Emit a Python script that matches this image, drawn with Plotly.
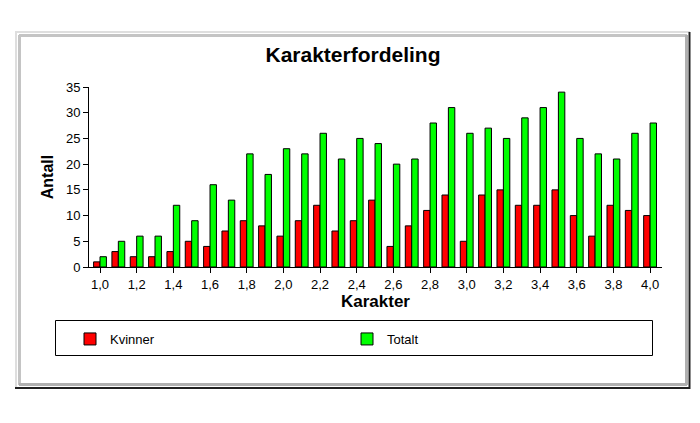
import plotly.graph_objs as go

# ---- Données ----
karakter = ["1,0", "1,1", "1,2", "1,3", "1,4", "1,5", "1,6", "1,7", "1,8", "1,9",
            "2,0", "2,1", "2,2", "2,3", "2,4", "2,5", "2,6", "2,7", "2,8", "2,9",
            "3,0", "3,1", "3,2", "3,3", "3,4", "3,5", "3,6", "3,7", "3,8", "3,9", "4,0"]
kvinner = [1, 3, 2, 2, 3, 5, 4, 7, 9, 8, 6, 9, 12, 7, 9, 13, 4, 8, 11, 14,
           5, 14, 15, 12, 12, 15, 10, 6, 12, 11, 10]
totalt = [2, 5, 6, 6, 12, 9, 16, 13, 22, 18, 23, 22, 26, 21, 25, 24, 20, 21, 28, 31,
          26, 27, 25, 29, 31, 34, 25, 22, 21, 26, 28]
tick_labels = karakter[::2]
y_ticks = [0, 5, 10, 15, 20, 25, 30, 35]

# la page a une marge de 8px -> on décale tout
OFF = 8
W, H = 700 - OFF, 423 - 2 * OFF
# zone du graphe en pixels (coordonnées de l'image)
L, R, T, B = 89, 662, 87, 267


def px_x(p):
    return (p - L) / (R - L)


def px_y(p):
    return (B - p) / (B - T)


font = "Liberation Sans, Arial, sans-serif"

trace_k = go.Bar(x=karakter, y=kvinner, name="Kvinner",
                 marker=dict(color="#ff0000", line=dict(color="black", width=1)))
trace_t = go.Bar(x=karakter, y=totalt, name="Totalt",
                 marker=dict(color="#00ff00", line=dict(color="black", width=1)))

fig = go.Figure(data=[trace_k, trace_t])

# ---- Cadre 3D ----
shapes = []


def line(x0, y0, x1, y1, color, w=2):
    shapes.append(dict(type="line", xref="paper", yref="paper",
                       x0=px_x(x0), y0=px_y(y0), x1=px_x(x1), y1=px_y(y1),
                       line=dict(color=color, width=w), layer="below"))


line(15, 32, 690, 32, "#dedede")
line(16, 32, 16, 388, "#dedede")
line(19, 35.5, 687, 35.5, "#c4c4c4", 3)
line(19.5, 35, 19.5, 385, "#c4c4c4", 3)
line(686.5, 35, 686.5, 385, "#b0b0b0", 3)
line(19, 384.5, 687, 384.5, "#b0b0b0", 3)
line(689.5, 32, 689.5, 389, "#202020", 2)
line(15, 388, 690, 388, "#202020", 2)
# cadre de la légende
shapes.append(dict(type="rect", xref="paper", yref="paper",
                   x0=px_x(55.5), y0=px_y(320.5), x1=px_x(652.5), y1=px_y(355.5),
                   line=dict(color="black", width=1)))

fig.update_layout(
    width=W, height=H,
    margin=dict(l=L - OFF, r=W - (R - OFF), t=T - OFF, b=H - (B - OFF)),
    paper_bgcolor="white", plot_bgcolor="white",
    title=dict(text="<b>Karakterfordeling</b>", x=(353 - OFF) / W, xref="container",
               y=1 - (55 - OFF) / H, yref="container", xanchor="center", yanchor="middle",
               font=dict(family=font, size=21, color="black")),
    barmode="group", bargap=0.3, bargroupgap=0,
    shapes=shapes,
    showlegend=True,
    legend=dict(orientation="h", x=px_x(70), y=px_y(339), xanchor="left", yanchor="middle",
                entrywidth=232, entrywidthmode="pixels",
                font=dict(family=font, size=13, color="black"),
                bgcolor="rgba(0,0,0,0)", borderwidth=0),
    xaxis=dict(type="category", range=[-0.6, 30.65], tickvals=tick_labels, ticktext=tick_labels,
               showline=True, linecolor="black", linewidth=1,
               ticks="outside", ticklen=5, tickcolor="black",
               showgrid=False, zeroline=False,
               tickfont=dict(family=font, size=13, color="black"),
               title=dict(text="<b>Karakter</b>", standoff=2,
                          font=dict(family=font, size=17, color="black"))),
    yaxis=dict(range=[0, 35], tickvals=y_ticks,
               showline=True, linecolor="black", linewidth=1,
               ticks="outside", ticklen=5, tickcolor="black",
               showgrid=False, zeroline=False,
               tickfont=dict(family=font, size=13, color="black"),
               title=dict(text="<b>Antall</b>", standoff=8,
                          font=dict(family=font, size=16, color="black"))),
)

fig.write_html("out.html")
